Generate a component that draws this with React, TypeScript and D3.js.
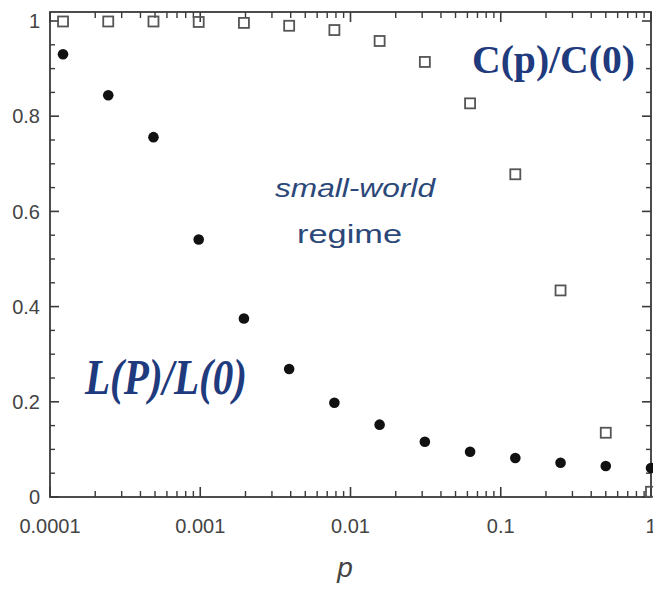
import React from "react";
import * as d3 from "d3";

const pValues = [
  1 / 8192, 1 / 4096, 1 / 2048, 1 / 1024, 1 / 512, 1 / 256, 1 / 128,
  1 / 64, 1 / 32, 1 / 16, 1 / 8, 1 / 4, 1 / 2, 1,
];
const lRatio = [0.93, 0.844, 0.756, 0.541, 0.375, 0.269, 0.198, 0.152, 0.116, 0.095, 0.082, 0.072, 0.065, 0.061];
const cRatio = [0.999, 0.999, 0.999, 0.998, 0.996, 0.99, 0.981, 0.958, 0.914, 0.827, 0.678, 0.434, 0.135, 0.011];
const xTickValues = [0.0001, 0.001, 0.01, 0.1, 1];
const xTickLabels = ["0.0001", "0.001", "0.01", "0.1", "1"];
const yTickValues = [0, 0.2, 0.4, 0.6, 0.8, 1];
const yTickLabels = ["0", "0.2", "0.4", "0.6", "0.8", "1"];

const W = 653;
const H = 590;
const left = 50;
const right = 651;
const top = 12;
const bottom = 497;

export default function App() {
  const x = d3.scaleLog().domain([0.0001, 1]).range([left, right]);
  const y = d3.scaleLinear().domain([0, 1]).range([bottom, 21]);

  const minorX: number[] = [];
  for (let e = -4; e < 0; e++) {
    for (let k = 2; k <= 9; k++) minorX.push(k * Math.pow(10, e));
  }
  const minorY: number[] = d3.range(1, 20).map((i) => i * 0.05).filter((v) => Math.abs((v * 10) % 2) > 1e-6 && Math.abs(Math.round(v * 100) % 20) !== 0);

  const axisColor = "#3a3a3a";
  const labelColor = "#444";
  const blue = "#1f3b7e";

  return (
    <svg width={W} height={H} style={{ position: "absolute", left: 0, top: 0, background: "#fff" }}>
      <rect x={0} y={0} width={W} height={H} fill="#fff" />
      {/* frame */}
      <rect x={left} y={top} width={right - left} height={bottom - top} fill="none" stroke={axisColor} strokeWidth={1.8} />
      {/* x ticks bottom & top */}
      {xTickValues.map((v, i) => (
        <g key={"xt" + i}>
          <line x1={x(v)} x2={x(v)} y1={bottom} y2={bottom - 10} stroke={axisColor} strokeWidth={1.6} />
          <line x1={x(v)} x2={x(v)} y1={top} y2={top + 10} stroke={axisColor} strokeWidth={1.6} />
          <text x={x(v)} y={533} textAnchor="middle" fontFamily="Liberation Sans, Arial, sans-serif" fontSize={20} fill={labelColor}>
            {xTickLabels[i]}
          </text>
        </g>
      ))}
      {minorX.map((v, i) => (
        <g key={"xm" + i}>
          <line x1={x(v)} x2={x(v)} y1={bottom} y2={bottom - 6} stroke={axisColor} strokeWidth={1.4} />
          <line x1={x(v)} x2={x(v)} y1={top} y2={top + 6} stroke={axisColor} strokeWidth={1.4} />
        </g>
      ))}
      {/* y ticks */}
      {yTickValues.map((v, i) => (
        <g key={"yt" + i}>
          <line x1={left} x2={left + 9} y1={y(v)} y2={y(v)} stroke={axisColor} strokeWidth={1.6} />
          <line x1={right} x2={right - 9} y1={y(v)} y2={y(v)} stroke={axisColor} strokeWidth={1.6} />
          <text x={40} y={y(v)} dy="0.36em" textAnchor="end" fontFamily="Liberation Sans, Arial, sans-serif" fontSize={20} fill={labelColor}>
            {yTickLabels[i]}
          </text>
        </g>
      ))}
      {minorY.map((v, i) => (
        <g key={"ym" + i}>
          <line x1={left} x2={left + 5} y1={y(v)} y2={y(v)} stroke={axisColor} strokeWidth={1.4} />
          <line x1={right} x2={right - 5} y1={y(v)} y2={y(v)} stroke={axisColor} strokeWidth={1.4} />
        </g>
      ))}
      {/* C(p)/C(0) squares */}
      {pValues.map((p, i) => (
        <rect key={"c" + i} x={x(p) - 5} y={y(cRatio[i]) - 5} width={10} height={10} fill="none" stroke="#555" strokeWidth={1.8} />
      ))}
      {/* L(p)/L(0) dots */}
      {pValues.map((p, i) => (
        <circle key={"l" + i} cx={x(p)} cy={y(lRatio[i])} r={5.3} fill="#111" />
      ))}
      {/* annotations */}
      <text x={472} y={73} fontFamily="Liberation Serif, Times New Roman, serif" fontWeight="bold" fontSize={40} fill={blue} textLength={163} lengthAdjust="spacingAndGlyphs">
        C(p)/C(0)
      </text>
      <text x={85} y={394} fontFamily="Liberation Serif, Times New Roman, serif" fontWeight="bold" fontStyle="italic" fontSize={50} fill={blue} textLength={162} lengthAdjust="spacingAndGlyphs">
        L(P)/L(0)
      </text>
      <text x={275} y={197} fontFamily="Liberation Sans, Arial, sans-serif" fontStyle="italic" fontSize={26} fill="#2c4878" textLength={160} lengthAdjust="spacingAndGlyphs">
        small-world
      </text>
      <text x={297} y={243} fontFamily="Liberation Sans, Arial, sans-serif" fontSize={26} fill="#2c4878" textLength={105} lengthAdjust="spacingAndGlyphs">
        regime
      </text>
      <text x={345} y={577} textAnchor="middle" fontFamily="Liberation Sans, Arial, sans-serif" fontStyle="italic" fontSize={28} fill={labelColor}>
        p
      </text>
    </svg>
  );
}
